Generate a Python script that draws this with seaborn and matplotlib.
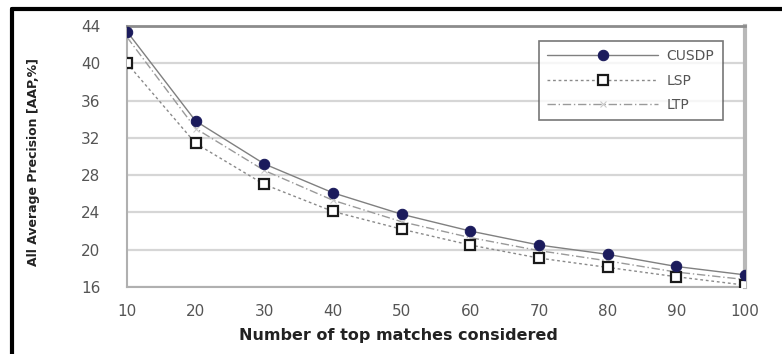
import numpy as np
import pandas as pd
import matplotlib
matplotlib.use("Agg")
import matplotlib.pyplot as plt
import seaborn as sns
from matplotlib.lines import Line2D

# values
top_matches = [10, 20, 30, 40, 50, 60, 70, 80, 90, 100]
cusdp = [43.4, 33.8, 29.2, 26.1, 23.8, 22.0, 20.5, 19.5, 18.2, 17.3]
lsp = [40.0, 31.4, 27.0, 24.1, 22.2, 20.5, 19.1, 18.1, 17.1, 16.2]
ltp = [42.8, 33.0, 28.5, 25.3, 23.0, 21.3, 19.9, 18.8, 17.6, 16.8]
y_ticks = [16, 20, 24, 28, 32, 36, 40, 44]

sns.set_style("white")
plt.rcParams['font.family'] = ['DejaVu Sans']

df = pd.DataFrame({"x": top_matches, "CUSDP": cusdp, "LSP": lsp, "LTP": ltp})

fig = plt.figure(figsize=(7.82, 3.54), dpi=100)
ax = fig.add_axes([0.1624, 0.1893, 0.7903, 0.7373])

# light horizontal grid
for yv in y_ticks:
    ax.axhline(yv, color="#d6d6d6", lw=1.6, zorder=0)

sns.lineplot(data=df, x="x", y="LTP", ax=ax, color="#9a9a9a", lw=1.0,
             marker="x", markersize=5, markeredgecolor="#c8c8c8",
             linestyle=(0, (6, 2, 1, 2)), label="LTP", zorder=2)
sns.lineplot(data=df, x="x", y="LSP", ax=ax, color="#8a8a8a", lw=1.0,
             marker="s", markersize=6.5, markerfacecolor="white",
             markeredgecolor="#1a1a1a", markeredgewidth=1.6,
             linestyle=(0, (2, 2)), label="LSP", zorder=3)
sns.lineplot(data=df, x="x", y="CUSDP", ax=ax, color="#808080", lw=1.0,
             marker="o", markersize=7.5, markerfacecolor="#1b1b5c",
             markeredgecolor="#1b1b5c", label="CUSDP", zorder=4)

ax.set_xlim(10, 100)
ax.set_ylim(16, 44)
ax.set_xticks(top_matches)
ax.set_yticks(y_ticks)
ax.tick_params(axis="both", labelsize=11, colors="#555555", length=0)
ax.tick_params(axis="x", pad=12)
ax.tick_params(axis="y", pad=19)

for side in ["left", "bottom"]:
    ax.spines[side].set_color("#b0b0b0")
    ax.spines[side].set_linewidth(1.5)
ax.spines["top"].set_color("#8c8c8c")
ax.spines["top"].set_linewidth(2)
ax.spines["right"].set_color("#b8b8b8")
ax.spines["right"].set_linewidth(3)

ax.set_xlabel("Number of top matches considered", fontsize=11.5, fontweight="bold",
              color="#222222")
ax.xaxis.set_label_coords(0.44, -0.158)
ax.set_ylabel("All Average Precision [AAP,%]", fontsize=9, fontweight="bold",
              color="#222222")
ax.yaxis.set_label_coords(-0.14, 0.48)

handles, labels = ax.get_legend_handles_labels()
order = [labels.index(n) for n in ["CUSDP", "LSP", "LTP"]]
leg = ax.legend([handles[i] for i in order], [labels[i] for i in order],
                loc="upper right", bbox_to_anchor=(0.975, 0.97), frameon=True,
                fancybox=False, fontsize=10, handlelength=8, labelspacing=0.75,
                borderpad=0.6, handletextpad=0.6)
leg.get_frame().set_edgecolor("#555555")
leg.get_frame().set_linewidth(1.2)
for t in leg.get_texts():
    t.set_color("#555555")

# outer frame (top and left edges of the original image)
fig.add_artist(Line2D([0.015, 1.0], [0.975, 0.975], color="black", lw=3,
                      transform=fig.transFigure))
fig.add_artist(Line2D([0.015, 0.015], [0.0, 0.975], color="black", lw=3,
                      transform=fig.transFigure))

fig.savefig("out.png", dpi=100)
